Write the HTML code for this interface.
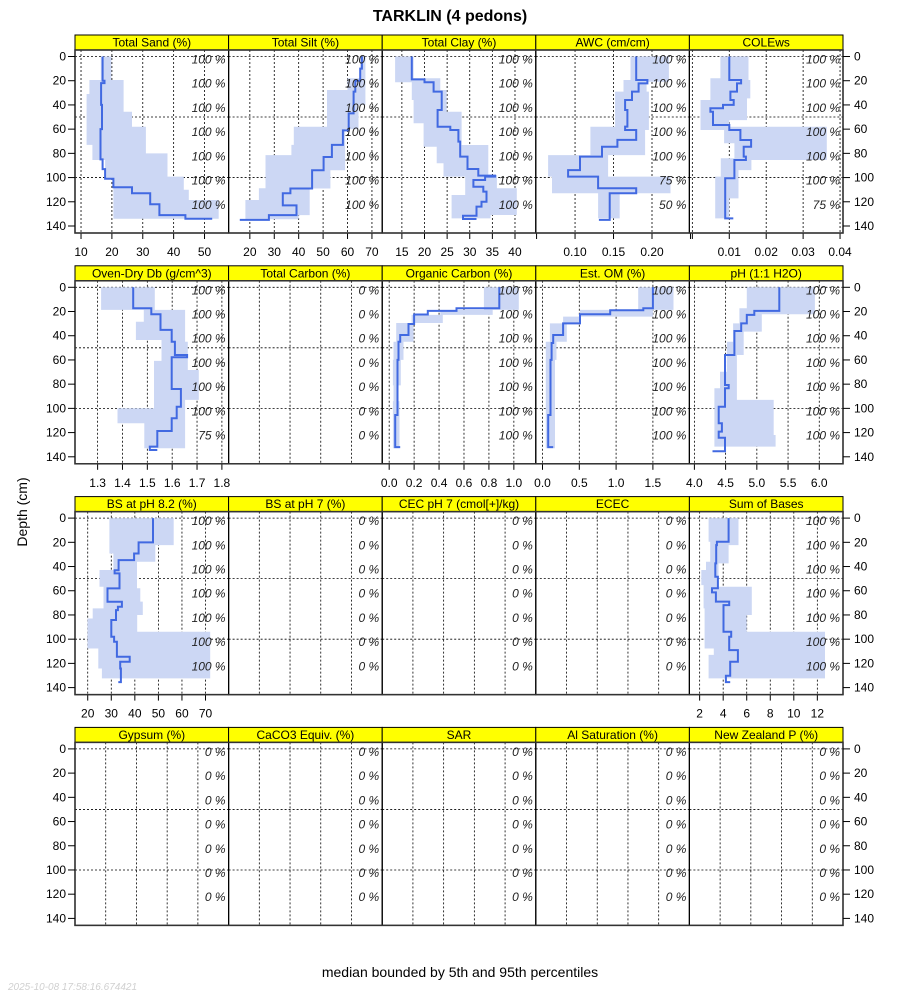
<!DOCTYPE html>
<html><head><meta charset="utf-8"><style>
html,body{margin:0;padding:0;background:#fff;}
svg{display:block;font-family:"Liberation Sans",sans-serif;}
</style></head><body>
<svg id="chart" width="900" height="1000" viewBox="0 0 900 1000" xmlns="http://www.w3.org/2000/svg">
<text x="450" y="21" text-anchor="middle" font-size="16" font-weight="bold">TARKLIN (4 pedons)</text>
<text transform="translate(27,512) rotate(-90)" text-anchor="middle" font-size="14">Depth (cm)</text>
<text x="460" y="977" text-anchor="middle" font-size="14">median bounded by 5th and 95th percentiles</text>
<text x="8" y="990" font-size="10" font-style="italic" fill="#d0d0d0">2025-10-08 17:58:16.674421</text>
</svg>
<script>
const depthTicks=[0,20,40,60,80,100,120,140];
const sandMedD=[0,20,22,40,60,85,93,101,108,113,122,131,134], sandMedV=[17,17.6,16.5,16.8,16.3,17,17.8,20.5,26.5,32.4,35.4,43.8,52.5];
const sandLoD=[0,19.4,31,73,85.5,100.6], sandLoV=[16.4,12.7,11.8,13.7,17.8,20.5];
const sandHiD=[0,19.4,45.6,58,80,99.2,110,118.5], sandHiV=[19.8,23.8,26.5,31,38,43.3,44.9,54.6];
const siltMedD=[0,10,20,29,47,61,73,83,94,109,113,123,131,135], siltMedV=[65.9,65.2,63.2,62.5,60.5,58.1,53.6,50.2,45.5,36.6,33.5,39.1,27.8,15.9];
const siltLoD=[0,18,27.7,58,73,81.4,108.9,118.5], siltLoV=[65.2,60,51.6,38,37,26.4,23.7,18.2];
const siltHiD=[0,40,60,94,109,131], siltHiV=[67.3,64.5,59,53,44.5,40];
const clayMedD=[0,18.9,21.3,29,44.2,58,60.7,70.3,82.7,92.9,98.4,99.2,102,107.5,111.6,119.9,124,131.5,134.2], clayMedV=[17.2,20,22,23.8,22.9,25.7,27.5,27.9,29.5,31.9,35.6,33.4,30.8,33,33.7,32.6,31.5,28.5,31.5];
const clayLoD=[0,21.3,35.9,55.2,74.5,88.2,99.2,114.4], clayLoV=[13.5,17.2,17.6,19.8,22.7,24.2,29,26];
const clayHiD=[0,18,27.7,45.6,73.1,97.9,108.9,130.9], clayHiV=[17.6,23.5,24.9,28.2,34.1,36,40.4,34.6];
const awcMedD=[0,19.4,22.2,29,35.9,44.2,57.9,60.7,68.9,74.5,82.7,93.8,99.2,108.9,113,135], awcMedV=[0.1795,0.194,0.1826,0.174,0.165,0.168,0.165,0.1795,0.155,0.135,0.1065,0.091,0.130,0.1795,0.145,0.131];
const awcLoD=[0,19.4,29,58,81.4,99.2,113], awcLoV=[0.172,0.163,0.152,0.12,0.065,0.07,0.13];
const awcHiD=[0,20.8,29,60.7,81.4,99.2,113], awcHiV=[0.222,0.193,0.196,0.191,0.143,0.224,0.158];
const coleMedD=[0,19.4,22.2,29,35.9,40,42.8,45.6,56.6,60.7,69,74.5,82.7,85.5,100.6,133.7], coleMedV=[0.0100,0.0132,0.0121,0.0103,0.0112,0.0083,0.0049,0.0056,0.0100,0.013,0.0159,0.0139,0.0145,0.0114,0.0089,0.0111];
const coleLoD=[0,18,35.9,60.7,71.7,84.1,99.2], coleLoV=[0.0076,0.0049,0.0022,0.0086,0.0114,0.0077,0.0062];
const coleHiD=[0,19.4,34.6,52.5,58,85.5,93.8,117.2], coleHiV=[0.0152,0.0157,0.0148,0.0100,0.0364,0.016,0.0125,0.010];
const dbMedD=[0,17.3,22.3,35.2,44.9,55.9,57.8,84,98.6,108.2,118.7,131.6,134.4], dbMedV=[1.443,1.516,1.553,1.598,1.611,1.66,1.598,1.635,1.618,1.598,1.54,1.51,1.54];
const dbLoD=[0,18.7,28.4,43.5,60.8,99.9,112.3], dbLoV=[1.314,1.486,1.454,1.557,1.527,1.38,1.488];
const dbHiD=[0,18.7,44.9,68.3,93], dbHiV=[1.53,1.652,1.663,1.707,1.652];
const ocMedD=[0,17.3,19.5,22.5,30.3,39.4,44.9,60,105.5,132], ocMedV=[0.883,0.54,0.31,0.20,0.155,0.088,0.075,0.067,0.048,0.088];
const ocLoD=[0,18.7,22.8,29.5,45,60,81,94], ocLoV=[0.76,0.41,0.18,0.056,0.035,0.03,0.035,0.03];
const ocHiD=[0,18.7,22.8,29.5,45,60,81,94], ocHiV=[1.04,0.83,0.43,0.195,0.115,0.093,0.075,0.083];
const omMedD=[0,17.3,18.9,22.3,29.8,39.4,46,60,105.5,132], omMedV=[1.5,1.37,0.92,0.51,0.28,0.145,0.123,0.109,0.077,0.145];
const omLoD=[0,18.7,24.2,29.8,45], omLoV=[1.3,0.51,0.28,0.10,0.045];
const omHiD=[0,18.7,24.2,29.8,45,60], omHiV=[1.78,1.5,0.51,0.33,0.19,0.17];
const phMedD=[0,19.5,22.8,29.8,36.1,55.9,80.7,83.4,98.6,112.3,119.2,124.2,131.6,135.5], phMedV=[5.36,4.96,4.84,4.75,4.64,4.49,4.55,4.49,4.39,4.44,4.39,4.49,4.49,4.29];
const phLoD=[0,17.3,29.8,44.9,69.7,83.4], phLoV=[4.84,4.72,4.62,4.52,4.41,4.32];
const phHiD=[0,22.3,36.6,55.9,93,122], phHiV=[5.93,5.08,4.79,4.68,5.27,5.3];
const bsMedD=[0,20.1,29.2,34.7,43,45.7,58.1,69.1,73.2,76,84.2,98,102.2,114.6,118.7,124.2,135.5], bsMedV=[47.7,41.6,39.7,33.1,31.4,33.5,28.4,34.5,32.8,32,30,31.2,32.4,37.8,33.8,34.1,33];
const bsLoD=[0,29.2,42.9,56.7,74.6,82.9,107.7,124.2], bsLoV=[29.2,30.9,25,26.7,22.1,19.9,24.5,26];
const bsHiD=[0,22.3,36,58,69,80,93.9], bsHiV=[56.5,48.7,40.9,42.3,43.4,41,72];
const sbMedD=[0,19.5,22.3,37.4,48.5,58,61.4,69,71.9,93.9,98,109,118.7,130.2,135.5], sbMedV=[4.46,3.47,3.41,3.33,3.55,3.05,3.38,4.51,4.03,4.68,4.51,5.25,4.6,4.23,4.6];
const sbLoD=[0,19.5,36,42.9,55.3,74.6,107.7,113], sbLoV=[2.76,2.9,2.54,2.14,2.34,2.42,3.2,2.76];
const sbHiD=[0,22.3,37.4,56.7,80,93.9], sbHiV=[5.3,4.46,3.6,6.43,6.0,12.65];
const pctAWC=["100 %","100 %","100 %","100 %","100 %","75 %","50 %"];
const pctCOLE=["100 %","100 %","100 %","100 %","100 %","100 %","75 %"];
const pctDb=["100 %","100 %","100 %","100 %","100 %","100 %","75 %"];
const pctFull=["100 %","100 %","100 %","100 %","100 %","100 %","100 %"];
const pctZero=["0 %","0 %","0 %","0 %","0 %","0 %","0 %"];

const panels=[
 {t:"Total Sand (%)",dom:[8.05,57.8],ticks:[10,20,30,40,50],labs:["10","20","30","40","50"],md:sandMedD,mv:sandMedV,ld:sandLoD,lv:sandLoV,hd:sandHiD,hv:sandHiV,bot:134,pct:pctFull},
 {t:"Total Silt (%)",dom:[11.3,74.2],ticks:[20,30,40,50,60,70],labs:["20","30","40","50","60","70"],md:siltMedD,mv:siltMedV,ld:siltLoD,lv:siltLoV,hd:siltHiD,hv:siltHiV,bot:134.5,pct:pctFull},
 {t:"Total Clay (%)",dom:[10.65,44.6],ticks:[15,20,25,30,35,40],labs:["15","20","25","30","35","40"],md:clayMedD,mv:clayMedV,ld:clayLoD,lv:clayLoV,hd:clayHiD,hv:clayHiV,bot:133.7,pct:pctFull},
 {t:"AWC (cm/cm)",dom:[0.049,0.2486],ticks:[0.05,0.10,0.15,0.20,0.25],labs:["","0.10","0.15","0.20",""],md:awcMedD,mv:awcMedV,ld:awcLoD,lv:awcLoV,hd:awcHiD,hv:awcHiV,bot:133.7,pct:pctAWC},
 {t:"COLEws",dom:[-0.0008,0.0408],ticks:[0,0.01,0.02,0.03,0.04],labs:["","0.01","0.02","0.03","0.04"],md:coleMedD,mv:coleMedV,ld:coleLoD,lv:coleLoV,hd:coleHiD,hv:coleHiV,bot:133.7,pct:pctCOLE},
 {t:"Oven-Dry Db (g/cm^3)",dom:[1.209,1.827],ticks:[1.3,1.4,1.5,1.6,1.7,1.8],labs:["1.3","1.4","1.5","1.6","1.7","1.8"],md:dbMedD,mv:dbMedV,ld:dbLoD,lv:dbLoV,hd:dbHiD,hv:dbHiV,bot:133,pct:pctDb},
 {t:"Total Carbon (%)",pct:pctZero},
 {t:"Organic Carbon (%)",dom:[-0.056,1.176],ticks:[0,0.2,0.4,0.6,0.8,1.0],labs:["0.0","0.2","0.4","0.6","0.8","1.0"],md:ocMedD,mv:ocMedV,ld:ocLoD,lv:ocLoV,hd:ocHiD,hv:ocHiV,bot:133,pct:pctFull},
 {t:"Est. OM (%)",dom:[-0.091,1.996],ticks:[0,0.5,1.0,1.5],labs:["0.0","0.5","1.0","1.5"],md:omMedD,mv:omMedV,ld:omLoD,lv:omLoV,hd:omHiD,hv:omHiV,bot:133,pct:pctFull},
 {t:"pH (1:1 H2O)",dom:[3.92,6.38],ticks:[4,4.5,5,5.5,6],labs:["4.0","4.5","5.0","5.5","6.0"],md:phMedD,mv:phMedV,ld:phLoD,lv:phLoV,hd:phHiD,hv:phHiV,bot:131.6,pct:pctFull},
 {t:"BS at pH 8.2 (%)",dom:[14.6,79.8],ticks:[20,30,40,50,60,70],labs:["20","30","40","50","60","70"],md:bsMedD,mv:bsMedV,ld:bsLoD,lv:bsLoV,hd:bsHiD,hv:bsHiV,bot:132.4,pct:pctFull},
 {t:"BS at pH 7 (%)",pct:pctZero},
 {t:"CEC pH 7 (cmol[+]/kg)",pct:pctZero},
 {t:"ECEC",pct:pctZero},
 {t:"Sum of Bases",dom:[1.13,14.18],ticks:[2,4,6,8,10,12],labs:["2","4","6","8","10","12"],md:sbMedD,mv:sbMedV,ld:sbLoD,lv:sbLoV,hd:sbHiD,hv:sbHiV,bot:132.4,pct:pctFull},
 {t:"Gypsum (%)",pct:pctZero},{t:"CaCO3 Equiv. (%)",pct:pctZero},{t:"SAR",pct:pctZero},{t:"Al Saturation (%)",pct:pctZero},{t:"New Zealand P (%)",pct:pctZero}
];

const svg=document.getElementById('chart');
const NS="http://www.w3.org/2000/svg";
function mk(tag,attrs,parent){const e=document.createElementNS(NS,tag);for(const k in attrs)e.setAttribute(k,attrs[k]);(parent||svg).appendChild(e);return e;}
const X0=75,CW=153.6,R0=35,RH=230.8,SH=15,PH=183,DPX=1.2107;

panels.forEach((p,i)=>{
  const c=i%5,r=Math.floor(i/5);
  const x0=X0+c*CW,x1=x0+CW,top=R0+r*RH,pt=top+SH,pb=pt+PH;
  const yS=d=>top+21.5+d*DPX;
  const xS=p.dom?(v=>x0+(v-p.dom[0])/(p.dom[1]-p.dom[0])*CW):null;
  const g=mk('g',{});
  
  
  const st=mk('rect',{x:x0,y:top,width:CW,height:SH,fill:'#ffff00',stroke:'#000','stroke-width':1},g);
  
  
  const stt=mk('text',{x:x0+CW/2,y:top+11.5,'text-anchor':'middle','font-size':12},g);
  stt.textContent=p.t;
  
  
  const gx=p.dom?p.ticks.map(xS):[0.2,0.4,0.6,0.8].map(f=>x0+f*CW);
  gx.forEach(x=>{if(x>x0+1&&x<x1-1){const l=mk('line',{x1:x,x2:x,y1:pt,y2:pb,stroke:'#000','stroke-dasharray':'2,2','stroke-width':0.8},g);
    
    }});
  [0,50,100].forEach(d=>{const l=mk('line',{x1:x0,x2:x1,y1:yS(d),y2:yS(d),stroke:'#000','stroke-dasharray':'2,2','stroke-width':0.8},g);
    
    });
  if(p.md){
    let pts=[];
    p.hd.forEach((d,k)=>{const nd=k+1<p.hd.length?p.hd[k+1]:p.bot;pts.push([xS(p.hv[k]),yS(d)],[xS(p.hv[k]),yS(nd)]);});
    for(let k=p.ld.length-1;k>=0;k--){const nd=k+1<p.ld.length?p.ld[k+1]:p.bot;pts.push([xS(p.lv[k]),yS(nd)],[xS(p.lv[k]),yS(p.ld[k])]);}
    const band=mk('polygon',{points:pts.map(q=>q[0].toFixed(1)+','+q[1].toFixed(1)).join(' '),fill:'#ccd7f4',stroke:'none'},g);
    
    
    let mp=[];
    p.md.forEach((d,k)=>{const nd=k+1<p.md.length?p.md[k+1]:d;mp.push([xS(p.mv[k]),yS(d)],[xS(p.mv[k]),yS(nd)]);});
    const ml=mk('polyline',{points:mp.map(q=>q[0].toFixed(1)+','+q[1].toFixed(1)).join(' '),fill:'none',stroke:'#4169e1','stroke-width':2},g);
    
    
  }
  p.pct.forEach((s,k)=>{const t=mk('text',{x:x1-3,y:yS(k*20)+7,'text-anchor':'end','font-size':12,'font-style':'italic',fill:'#222'},g);
    t.textContent=s;
    
    });
  const fr=mk('rect',{x:x0,y:pt,width:CW,height:PH,fill:'none',stroke:'#000','stroke-width':1.2},g);
  
  
  if(p.dom){p.ticks.forEach((t,k)=>{const x=xS(t);
    const tk=mk('line',{x1:x,x2:x,y1:pb,y2:pb+6,stroke:'#000'},g);
    
    
    if(p.labs[k]){const tl=mk('text',{x:x,y:pb+23,'text-anchor':'middle','font-size':12},g);
      tl.textContent=p.labs[k];
      
      }});}
});
for(let r=0;r<4;r++){
  const top=R0+r*RH,pt=top+SH,x1=X0+5*CW;
  const ol=mk('rect',{x:X0,y:pt,width:5*CW,height:PH,fill:'none',stroke:'#333','stroke-width':1.5});
  
  
  depthTicks.forEach(d=>{const y=top+21.5+d*DPX;
    const a=mk('line',{x1:X0-7,x2:X0,y1:y,y2:y,stroke:'#000'});
    
    
    const b=mk('line',{x1:x1,x2:x1+7,y1:y,y2:y,stroke:'#000'});
    
    
    const la=mk('text',{x:X0-9,y:y+4,'text-anchor':'end','font-size':12});
    la.textContent=d;
    
    
    const lb=mk('text',{x:x1+11,y:y+4,'text-anchor':'start','font-size':12});
    lb.textContent=d;
    
    });
}
</script>
</body></html>
